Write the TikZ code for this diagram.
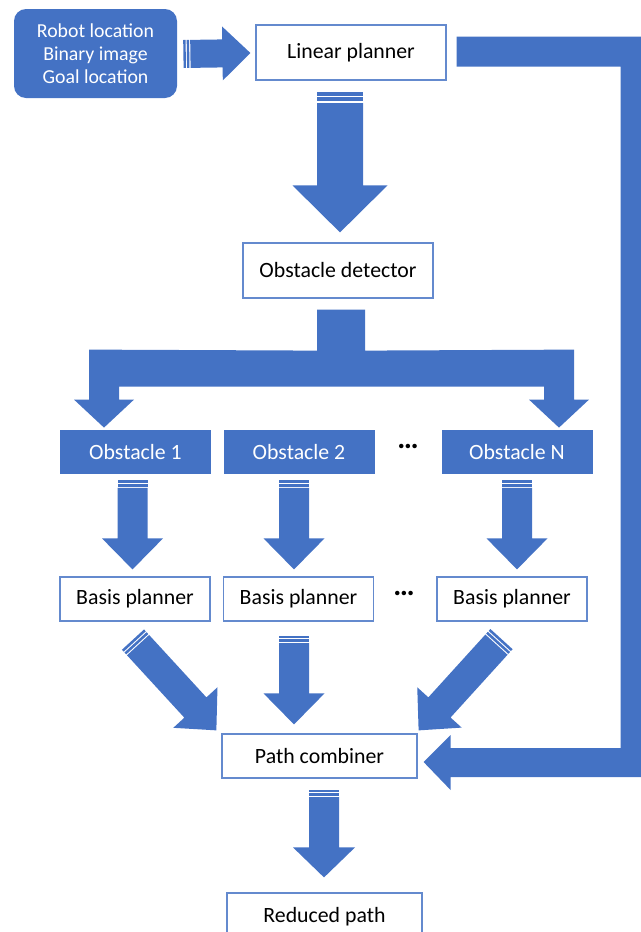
\documentclass[tikz,border=0pt]{standalone}
\usepackage{fontspec}
\setmainfont{Carlito}
\usepackage{tikz}
\usetikzlibrary{calc}
\definecolor{arrowblue}{RGB}{68,114,196}
\definecolor{boxline}{RGB}{100,138,206}

% striped block arrow: #1 from, #2 to, #3 shaft half width, #4 head half width, #5 head length
\newcommand{\stripedarrow}[5]{%
  \path let \p1=(#1), \p2=(#2) in
    \pgfextra{\pgfmathsetmacro\arrang{atan2(\y2-\y1,\x2-\x1)}%
              \pgfmathsetmacro\arrlen{2*veclen(\x2-\x1,\y2-\y1)}%
              \global\let\arrang\arrang \global\let\arrlen\arrlen};
  \begin{scope}[shift={(#1)}, rotate=\arrang]
    \pgfmathsetmacro\stw{0.17*#3}\pgfmathsetmacro\stg{0.08*#3}
    \fill[arrowblue] (0,-#3) rectangle (\stw,#3);
    \fill[arrowblue] (\stw+\stg,-#3) rectangle (2*\stw+\stg,#3);
    \fill[arrowblue] (2*\stw+2*\stg,-#3) -- (\arrlen-#5,-#3) -- (\arrlen-#5,-#4)
      -- (\arrlen,0) -- (\arrlen-#5,#4) -- (\arrlen-#5,#3) -- (2*\stw+2*\stg,#3) -- cycle;
  \end{scope}}

\begin{document}
\begin{tikzpicture}[
    x=0.5pt, y=-0.5pt,
    stage/.style={rectangle, draw=boxline, line width=0.6pt, fill=white,
                  minimum width=#1, minimum height=22pt, inner sep=0pt, align=center},
    stage/.default=95pt,
    blockstage/.style={rectangle, fill=arrowblue, text=white,
                  minimum width=#1, minimum height=22pt, inner sep=0pt, align=center},
    gap/.style={font=\fontsize{15}{15}\selectfont\bfseries},
    font=\fontsize{10.9}{13}\selectfont
]
    \useasboundingbox (0,0) rectangle (641,932);
    \clip (0,0) rectangle (641,932);

    % Inputs and first stages
    \node[blockstage=81.5pt, minimum height=44.5pt, rounded corners=6pt,
          font=\fontsize{9.9}{11.5}\selectfont] (input) at (95.5,53.5)
          {Robot location\\Binary image\\Goal location};
    \node[stage, minimum height=27.5pt] (linear) at (351,52.5) {Linear planner};
    \node[stage, minimum height=27.5pt] (detector) at (338,270.5) {Obstacle detector};

    % Obstacles
    \node[blockstage=75.5pt] (obs1) at (135.5,452) {Obstacle 1};
    \node[blockstage=75.5pt] (obs2) at (299,452) {Obstacle 2};
    \node[blockstage=75.5pt] (obsN) at (517,452) {Obstacle N};
    \node[gap] (obsdots) at (408,446) {…};

    % Basis planners
    \node[stage=75pt] (basis1) at (135,599) {Basis planner};
    \node[stage=75pt] (basis2) at (298.5,599) {Basis planner};
    \node[stage=75pt] (basisN) at (512,599) {Basis planner};
    \node[gap] (basisdots) at (404,593) {…};

    % Output
    \node[stage=97.5pt] (combiner) at (319.5,756) {Path combiner};
    \node[stage=97.5pt, minimum height=24pt] (reduced) at (324.5,917) {Reduced path};

    % Arrows
    \stripedarrow{$(input.east)+(6,0.5)$}{$(linear.west)+(-5,0.5)$}{14}{27}{28}
    \stripedarrow{$(linear.south)+(-11,11)$}{$(linear.south |- detector.north)+(-11,-10)$}{23}{47.5}{47}
    \stripedarrow{$(obs1.south)+(-3,6)$}{$(obs1.south |- basis1.north)+(-3,-7)$}{15}{30.5}{31}
    \stripedarrow{$(obs2.south)+(-5,6)$}{$(obs2.south |- basis2.north)+(-5,-7)$}{15}{30.5}{31}
    \stripedarrow{$(obsN.south)+(0,6)$}{$(obsN.south |- basisN.north)+(0,-7)$}{15}{30.5}{31}
    \stripedarrow{$(basis1.south)+(-2,18)$}{$(combiner.north west)+(-5,-3)$}{15}{30}{31}
    \stripedarrow{$(basis2.south)+(-4.5,14)$}{$(basis2.south |- combiner.north)+(-4.5,-9)$}{15}{30.5}{31}
    \stripedarrow{$(basisN.south)+(-10.5,17.5)$}{$(combiner.north east)+(1,-3)$}{15}{30}{31}
    \stripedarrow{$(combiner.south)+(4.5,11)$}{$(combiner.south |- reduced.north)+(4.5,-15)$}{15}{31}{30}

    % Split from the detector to the obstacles
    \coordinate (split) at ($(detector.south)+(3,11)$);
    \coordinate (tip1) at ($(obs1.north)+(-31.5,-2)$);
    \coordinate (tipN) at ($(obsN.north)+(42,-2)$);
    \fill[arrowblue] ($(split)+(-24,0)$) -- ($(split)+(24,0)$) -- ($(split)+(24,41)$)
        -- ($(tipN)+(15,-78)$) -- ($(tipN)+(15,-28)$) -- ($(tipN)+(30,-28)$) -- (tipN)
        -- ($(tipN)+(-30,-28)$) -- ($(tipN)+(-15,-28)$) -- ($(tipN)+(-15,-41)$)
        -- ($(tip1)+(15,-41)$) -- ($(tip1)+(15,-28)$) -- ($(tip1)+(30,-28)$) -- (tip1)
        -- ($(tip1)+(-30,-28)$) -- ($(tip1)+(-15,-28)$) -- ($(tip1)+(-15,-78)$)
        -- ($(split)+(-24,41)$) -- cycle;

    % Feedback from the linear planner to the combiner
    \coordinate (fbstart) at ($(linear.east)+(10,-1)$);
    \coordinate (fbturn) at ($(fbstart)+(179,0)$);
    \coordinate (fbtip) at ($(combiner.east)+(6,6)$);
    \fill[arrowblue] ($(fbstart)+(0,-15)$) -- ($(fbturn)+(15,-15)$)
        -- ($(fbturn |- fbtip)+(15,15)$) -- ($(fbtip)+(27,15)$) -- ($(fbtip)+(27,28)$)
        -- (fbtip) -- ($(fbtip)+(27,-27)$) -- ($(fbtip)+(27,-14)$)
        -- ($(fbturn |- fbtip)+(-15,-14)$) -- ($(fbturn)+(-15,15)$)
        -- ($(fbstart)+(0,15)$) -- cycle;
\end{tikzpicture}
\end{document}
